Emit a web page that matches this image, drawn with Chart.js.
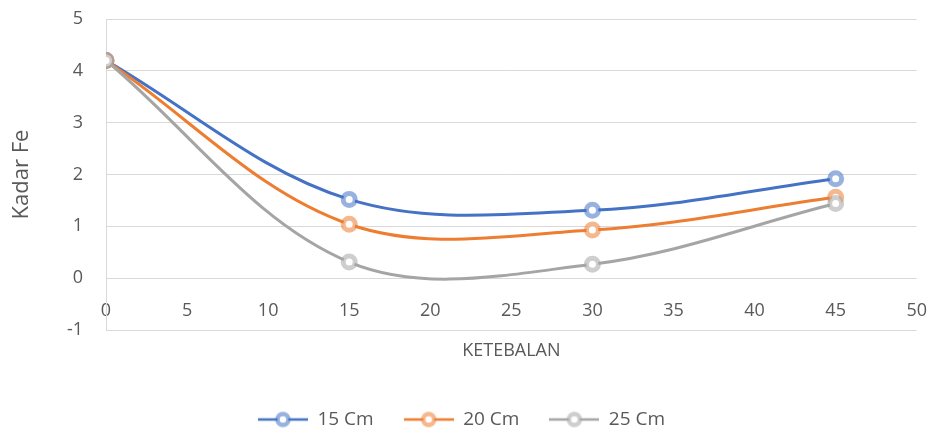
<!DOCTYPE html>
<html>
<head>
<meta charset="utf-8">
<script src="https://cdn.jsdelivr.net/npm/chart.js@4.4.0/dist/chart.umd.min.js"></script>
<style>
  html, body { margin: 0; padding: 0; background: #fff; }
  #wrap { width: 931px; height: 430px; }
</style>
</head>
<body>
<div id="wrap"><canvas id="grafico"></canvas></div>
<script>
// data
var xValues = [0, 15, 30, 45];
var yValues1 = [4.2, 1.52, 1.31, 1.92];
var yValues2 = [4.2, 1.04, 0.93, 1.56];
var yValues3 = [4.2, 0.31, 0.27, 1.44];
var seriesNames = ["15 Cm", "20 Cm", "25 Cm"];

var lineColors = ['#4472C4', '#ED7D31', '#A5A5A5'];
var markColors = ['rgba(68,114,196,0.55)', 'rgba(237,125,49,0.55)', 'rgba(165,165,165,0.55)'];
var txt = '#595959';
var fam = 'Open Sans';

function pts(ys) {
  return xValues.map(function (x, i) { return { x: x, y: ys[i] }; });
}

// legend icon: short line with ring marker
function legendIcon(i) {
  var c = document.createElement('canvas');
  c.width = 50; c.height = 20;
  var g = c.getContext('2d');
  g.strokeStyle = lineColors[i];
  g.lineWidth = 2.5;
  g.beginPath(); g.moveTo(0, 10); g.lineTo(50, 10); g.stroke();
  g.fillStyle = '#fff';
  g.strokeStyle = markColors[i];
  g.lineWidth = 4.5;
  g.beginPath(); g.arc(25, 10, 5.5, 0, Math.PI * 2); g.fill(); g.stroke();
  return c;
}

var allY = [yValues1, yValues2, yValues3];
var datasets = allY.map(function (ys, i) {
  return {
    label: seriesNames[i],
    data: pts(ys),
    showLine: true,
    borderColor: lineColors[i],
    borderWidth: 3,
    tension: 0.35,
    pointRadius: 6,
    pointHoverRadius: 6,
    pointBorderWidth: 5,
    pointBorderColor: markColors[i],
    pointBackgroundColor: '#fff',
    order: 3 - i
  };
});

new Chart(document.getElementById('grafico'), {
  type: 'scatter',
  data: { datasets: datasets },
  options: {
    responsive: true,
    maintainAspectRatio: false,
    animation: false,
    layout: { padding: { top: 19, right: 13, left: 5, bottom: -9 } },
    plugins: {
      tooltip: { enabled: false },
      legend: {
        position: 'bottom',
        labels: {
          font: { family: fam, size: 19 },
          color: txt,
          usePointStyle: true,
          pointStyleWidth: 50,
          padding: 30,
          generateLabels: function (chart) {
            return chart.data.datasets.map(function (d, i) {
              return {
                text: d.label,
                pointStyle: legendIcon(i),
                fillStyle: lineColors[i],
                strokeStyle: lineColors[i],
                lineWidth: 0,
                fontColor: txt,
                datasetIndex: i
              };
            });
          }
        }
      }
    },
    scales: {
      x: {
        type: 'linear',
        position: { y: 0 },
        min: 0,
        max: 50,
        ticks: {
          stepSize: 5,
          padding: 4,
          color: txt,
          font: { family: fam, size: 18 }
        },
        // invisible tick marks push the labels down below the zero line
        grid: { display: true, drawOnChartArea: false, drawTicks: true, tickLength: 18, tickColor: 'rgba(0,0,0,0)' },
        border: { display: false }
      },
      x2: {
        type: 'linear',
        position: 'bottom',
        min: 0,
        max: 50,
        ticks: { display: false },
        grid: { display: false, drawTicks: false },
        border: { display: false },
        title: {
          display: true,
          text: 'KETEBALAN',
          color: txt,
          font: { family: fam, size: 18 },
          padding: { top: 0, bottom: 18 }
        },
        afterFit: function (scale) { scale.height = 50; }
      },
      y: {
        min: -1,
        max: 5,
        ticks: {
          stepSize: 1,
          padding: 4,
          color: txt,
          font: { family: fam, size: 18 }
        },
        grid: { color: '#d9d9d9', lineWidth: 1, drawTicks: true, tickLength: 19, tickColor: 'rgba(0,0,0,0)' },
        border: { display: true, color: '#d9d9d9' },
        title: {
          display: true,
          text: 'Kadar Fe',
          color: txt,
          font: { family: fam, size: 22 }
        },
        afterFit: function (scale) { scale.width = 101; }
      }
    }
  }
});
</script>
</body>
</html>
